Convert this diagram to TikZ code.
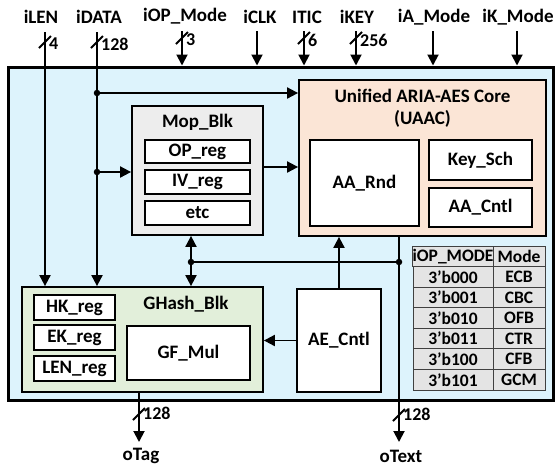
\documentclass[tikz,border=0pt]{standalone}
\usepackage{fontspec}
\setmainfont{Carlito}
\usetikzlibrary{arrows.meta}
\definecolor{bgblue}{HTML}{DDF3FC}
\definecolor{peach}{HTML}{FBE5D6}
\definecolor{mopgray}{HTML}{EDEDED}
\definecolor{ghgreen}{HTML}{E2EFDA}
\definecolor{tabgray}{HTML}{E4E4E4}
\begin{document}
\begin{tikzpicture}[x=1pt,y=-1pt,
 font=\fontsize{19}{21}\selectfont\bfseries,
 box/.style={draw, line width=1.8pt, inner sep=0pt, align=center},
 sub/.style={box, fill=white, line width=1.5pt},
 wire/.style={line width=1.9pt},
 arr/.style={wire, -{Triangle[length=11pt,width=11pt]}},
 darr/.style={wire, {Triangle[length=11pt,width=11pt]}-{Triangle[length=11pt,width=11pt]}},
 jdot/.style={circle, fill, inner sep=0pt, minimum size=6.5pt},
 lbl/.style={inner sep=0pt},
 num/.style={inner sep=0pt, anchor=west, font=\fontsize{18}{20}\selectfont\bfseries},
 cell/.style={draw=black!75, line width=1pt, fill=tabgray, inner sep=0pt, minimum height=20.57pt, font=\fontsize{17.5}{19}\selectfont\bfseries},
 slash/.style={wire},
]
\useasboundingbox (0,0) rectangle (559,467);
% outer block
\node[box, line width=3pt, fill=bgblue, minimum width=545pt, minimum height=333pt] (outer) at (280.5,233.5) {};
% UAAC
\node[box, fill=peach, minimum width=247pt, minimum height=156pt] (uaac) at (422.5,158) {};
\node[lbl, align=center] (uaact) at (422.5,108) {Unified ARIA-AES Core\\[1pt](UAAC)};
\node[sub, minimum width=109pt, minimum height=86pt] (aarnd) at (364.5,183) {AA\_Rnd};
\node[sub, minimum width=103pt, minimum height=40pt] (keysch) at (480.5,160) {Key\_Sch};
\node[sub, minimum width=103pt, minimum height=39pt] (aacntl) at (480.5,207.5) {AA\_Cntl};
% Mop
\node[box, fill=mopgray, minimum width=131pt, minimum height=129pt] (mop) at (197.5,170.5) {};
\node[lbl] (mopt) at (197.5,122) {Mop\_Blk};
\node[sub, minimum width=105pt, minimum height=23pt] (opreg) at (197.5,151.5) {OP\_reg};
\node[sub, minimum width=105pt, minimum height=24pt] (ivreg) at (197.5,182) {IV\_reg};
\node[sub, minimum width=105pt, minimum height=24pt] (etc) at (197.5,213) {etc};
% GHash
\node[box, fill=ghgreen, minimum width=241pt, minimum height=105pt] (ghash) at (142.5,339.5) {};
\node[lbl] (ghasht) at (186,304) {GHash\_Blk};
\node[sub, minimum width=81pt, minimum height=25pt] (hkreg) at (74.5,307.5) {HK\_reg};
\node[sub, minimum width=81pt, minimum height=25pt] (ekreg) at (74.5,337.5) {EK\_reg};
\node[sub, minimum width=81pt, minimum height=25pt] (lenreg) at (74.5,368.5) {LEN\_reg};
\node[sub, minimum width=123pt, minimum height=54pt] (gfmul) at (188.5,353) {GF\_Mul};
% AE_Cntl
\node[sub, minimum width=84pt, minimum height=103pt] (aecntl) at (339,340.5) {AE\_Cntl};
% table
\foreach \a/\b [count=\i from 0] in {iOP\_MODE/Mode, 3’b000/ECB, 3’b001/CBC, 3’b010/OFB, 3’b011/CTR, 3’b100/CFB, 3’b101/GCM}{
  \node[cell, minimum width=80pt] (ta\i) at (453,{246+20.57*(\i+0.5)}) {\a};
  \node[cell, minimum width=52pt] (tb\i) at (519,{246+20.57*(\i+0.5)}) {\b};
}
% top labels
\node[lbl] (l-ilen) at (41,17) {iLEN};
\node[lbl] (l-idata) at (99,17) {iDATA};
\node[lbl] (l-iop) at (185,16) {iOP\_Mode};
\node[lbl] (l-iclk) at (260,17) {iCLK};
\node[lbl] (l-itic) at (307,17) {ITIC};
\node[lbl] (l-ikey) at (357,17) {iKEY};
\node[lbl] (l-ia) at (434,17) {iA\_Mode};
\node[lbl] (l-ik) at (518,17) {iK\_Mode};
\coordinate (s-ilen) at (45,32);
\coordinate (s-idata) at (97,32);
\coordinate (s-iop) at (182,31);
\coordinate (s-iclk) at (257,31);
\coordinate (s-itic) at (304,31);
\coordinate (s-ikey) at (356,31);
\coordinate (s-ia) at (433,31);
\coordinate (s-ik) at (517,31);
\draw[arr] (s-ilen) -- (s-ilen |- ghash.north);
\draw[arr] (s-idata) -- (s-idata |- ghash.north);
\foreach \s in {iop,iclk,itic,ikey,ia,ik}{
  \draw[arr] (s-\s) -- (s-\s |- outer.north);
}
% bus slashes
\foreach \n/\x/\y/\w in {ilen/45/42/4, idata/97/42/128, iop/182/38/3, itic/304/38/6, ikey/356/38/256}{
  \coordinate (c-\n) at (\x,\y);
  \draw[slash] ([shift={(-6,6)}]c-\n) -- ([shift={(6,-6)}]c-\n);
  \node[num] (n-\n) at ([shift={(4,2)}]c-\n) {\w};
}
% internal connections
\coordinate (j1) at (97,93);
\coordinate (j2) at (97,172);
\coordinate (j3) at (191,262);
\coordinate (j4) at (399,262);
\draw[arr] (j1) -- (j1 -| uaac.west);
\draw[arr] (j2) -- (j2 -| mop.west);
\draw[arr] ([yshift=3.5pt]mop.east) -- ([yshift=3.5pt]mop.east -| uaac.west);
\draw[darr] (j3 |- mop.south) -- (j3 |- ghash.north);
\draw[wire] (j3) -- (j4);
\draw[arr] (aecntl.north) -- (aecntl.north |- uaac.south);
\draw[arr] (aecntl.west) -- (aecntl.west -| ghash.east);
% outputs
\coordinate (e-otag) at (139,442);
\coordinate (e-otext) at (399,442);
\draw[arr] (e-otag |- ghash.south) -- (e-otag);
\draw[arr] (j4 |- uaac.south) -- (e-otext);
\foreach \n/\x/\y in {otag/139/414, otext/399/415}{
  \coordinate (c-\n) at (\x,\y);
  \draw[slash] ([shift={(-6,6)}]c-\n) -- ([shift={(6,-6)}]c-\n);
  \node[num] (n-\n) at ([shift={(4,-1)}]c-\n) {128};
}
\node[lbl] (l-otag) at (141,456) {oTag};
\node[lbl] (l-otext) at (401,456) {oText};
\foreach \j in {j1,j2,j3,j4}{ \node[jdot] at (\j) {}; }
\end{tikzpicture}
\end{document}
